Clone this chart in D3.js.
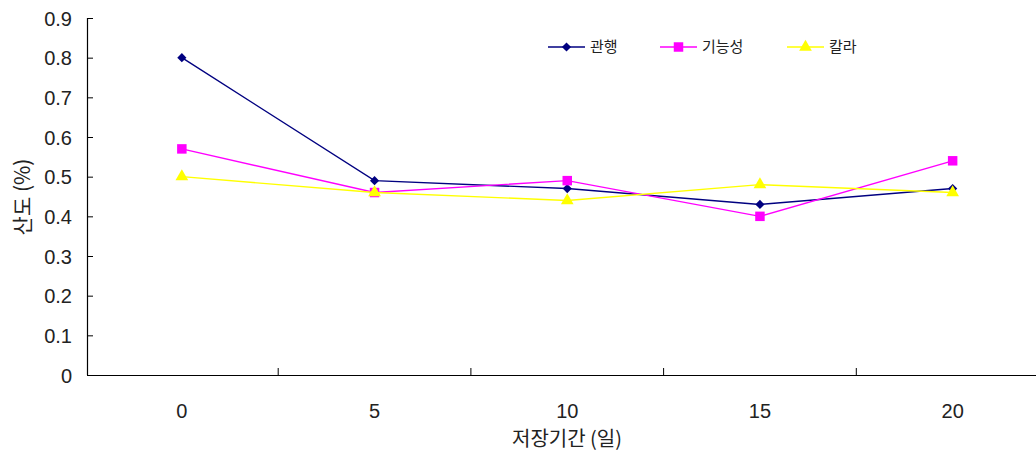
<!DOCTYPE html>
<html><head><meta charset="utf-8">
<script src="https://cdn.jsdelivr.net/npm/d3@7"></script>
<style>body{margin:0;background:#fff}svg{display:block}</style>
</head><body>
<svg id="c" width="1036" height="457"></svg>
<script>
const categories = ["0","5","10","15","20"];
const seriesNames = ["관행","기능성","칼라"];
const valsConv = [0.80,0.49,0.47,0.43,0.47];
const valsFunc = [0.57,0.46,0.49,0.40,0.54];
const valsColor = [0.50,0.46,0.44,0.48,0.46];
const yTicks = [0,0.1,0.2,0.3,0.4,0.5,0.6,0.7,0.8,0.9];
const xTitle = "저장기간 (일)";
const yTitle = "산도 (%)";

const series = [
  {name:seriesNames[0], values:valsConv, color:"#000080", sym:d3.symbolSquare, size:42, rot:45},
  {name:seriesNames[1], values:valsFunc, color:"#FF00FF", sym:d3.symbolSquare, size:90, rot:0},
  {name:seriesNames[2], values:valsColor, color:"#FFFF00", sym:d3.symbolTriangle, size:70, rot:0}
];

const svg = d3.select("#c");
const x = d3.scaleBand().domain(categories).range([85.5,1049]);
const y = d3.scaleLinear().domain([0,0.9]).range([375,18]);
const numFont = "'Liberation Sans', Arial, sans-serif";
const korFont = "'Noto Sans CJK KR', sans-serif";

// y axis
const ya = svg.append("g").attr("transform","translate(87,0)")
  .call(d3.axisRight(y).tickValues(yTicks).tickSize(6).tickFormat(d=>d===0?"0":d3.format(".1f")(d)));
ya.select(".domain").attr("stroke","#000").attr("stroke-width",1.2).attr("d","M0.5,18V375");
ya.selectAll(".tick line").attr("stroke","#000");
ya.selectAll(".tick text").attr("x",-15).attr("text-anchor","end").attr("dy","0.35em")
  .attr("font-family",numFont).attr("font-size",20).attr("fill","#222");

// x axis
const xa = svg.append("g").attr("transform","translate(0,375)")
  .call(d3.axisTop(x).tickSize(0).tickFormat(""));
xa.select(".domain").attr("stroke","#000").attr("stroke-width",1.2).attr("d","M87,0.5H1036");
const bounds = categories.slice(1).map(c=>x(c));
xa.selectAll(".sep").data(bounds).enter().append("line").attr("class","sep")
  .attr("x1",d=>d).attr("x2",d=>d).attr("y1",0).attr("y2",-7).attr("stroke","#000");
svg.append("g").selectAll("text").data(categories).enter().append("text")
  .attr("x",d=>x(d)+x.bandwidth()/2).attr("y",418).attr("text-anchor","middle")
  .attr("font-family","'Liberation Sans Narrow','Liberation Sans',sans-serif").attr("font-size",20).attr("fill","#222")
  .text(d=>d);

// titles
svg.append("text").attr("x",567).attr("y",446).attr("text-anchor","middle")
  .attr("font-family",korFont).attr("font-size",20).attr("fill","#222").text(xTitle);
svg.append("text").attr("transform","translate(30,197) rotate(-90)").attr("text-anchor","middle")
  .attr("font-family",korFont).attr("font-size",21).attr("fill","#222").text(yTitle);

// lines
const line = d3.line().x((d,i)=>x(categories[i])+x.bandwidth()/2).y(d=>y(d));
series.forEach(s=>{
  const g = svg.append("g");
  g.append("path").attr("d",line(s.values)).attr("fill","none").attr("stroke",s.color).attr("stroke-width",1.4);
  g.selectAll("path.m").data(s.values).enter().append("path").attr("class","m")
    .attr("d",d3.symbol().type(s.sym).size(s.size))
    .attr("transform",(d,i)=>`translate(${x(categories[i])+x.bandwidth()/2},${y(d)}) rotate(${s.rot})`)
    .attr("fill",s.color);
});

// legend
const legX = [548,660,787];
series.forEach((s,i)=>{
  const g = svg.append("g").attr("transform",`translate(${legX[i]},47)`);
  g.append("line").attr("x1",0).attr("x2",37).attr("stroke",s.color).attr("stroke-width",1.4);
  g.append("path").attr("d",d3.symbol().type(s.sym).size(s.size)).attr("transform",`translate(18.5,0) rotate(${s.rot})`).attr("fill",s.color);
  g.append("text").attr("x",42).attr("y",0).attr("dy","0.35em").attr("font-family",korFont)
    .attr("font-size",15).attr("fill","#222").text(s.name);
});
</script>
</body></html>
